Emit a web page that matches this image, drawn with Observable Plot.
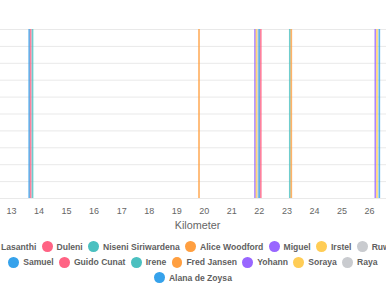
<!DOCTYPE html>
<html>
<head>
<meta charset="utf-8">
<script src="https://cdn.jsdelivr.net/npm/d3@7"></script>
<script src="https://cdn.jsdelivr.net/npm/@observablehq/plot@0.6"></script>
<style>
  html, body { margin: 0; padding: 0; background: #fff; }
  body { width: 386px; height: 290px; overflow: hidden; position: relative; }
  #chart svg { display: block; }
  #legend { width: 386px; padding-top: 3px; font-family: "Liberation Sans", Arial, sans-serif; font-weight: bold; font-size: 8.6px; color: #5f5f5f; }
  .row { display: flex; justify-content: center; align-items: center; height: 15.5px; flex-wrap: nowrap; white-space: nowrap; }
  .item { display: inline-flex; align-items: center; flex-shrink: 0; margin: 0 2.7px; }
  .dot { width: 10.8px; height: 10.8px; border-radius: 50%; margin-right: 4px; flex-shrink: 0; }
</style>
</head>
<body>
<div id="chart"></div>
<div id="legend"></div>
<script>
// Series (legend order) and palette
const names = ["Lasanthi", "Duleni", "Niseni Siriwardena", "Alice Woodford", "Miguel", "Irstel", "Ruwan",
               "Samuel", "Guido Cunat", "Irene", "Fred Jansen", "Yohann", "Soraya", "Raya", "Alana de Zoysa"];
const palette = ["rgb(54,162,235)", "rgb(255,99,132)", "rgb(75,192,192)", "rgb(255,159,64)",
                 "rgb(153,102,255)", "rgb(255,205,86)", "rgb(201,203,207)"];
const legendRows = [
  ["Lasanthi", "Duleni", "Niseni Siriwardena", "Alice Woodford", "Miguel", "Irstel", "Ruwan"],
  ["Samuel", "Guido Cunat", "Irene", "Fred Jansen", "Yohann", "Soraya", "Raya"],
  ["Alana de Zoysa"]
];

// Marker positions (kilometer) per person
const markerNames = ["Samuel", "Duleni", "Niseni Siriwardena", "Alice Woodford",
                     "Miguel", "Irstel", "Raya", "Lasanthi", "Guido Cunat",
                     "Irene", "Fred Jansen", "Yohann", "Soraya", "Alana de Zoysa"];
const markerKm = [13.643, 13.697, 13.763, 19.809,
                  21.842, 21.896, 21.951, 21.995, 22.053,
                  23.106, 23.160, 26.211, 26.273, 26.356];

// Axis ticks
const xTicks = [13, 14, 15, 16, 17, 18, 19, 20, 21, 22, 23, 24, 25, 26];
const yGrid = [0, 0.1, 0.2, 0.3, 0.4, 0.5, 0.6, 0.7, 0.8, 0.9, 1];
const xTitle = "Kilometer";

const colors = names.map((n, i) => palette[i % palette.length]);
const markers = markerNames.map((n, i) => ({name: n, km: markerKm[i]}));

const chart = Plot.plot({
  width: 386,
  height: 236,
  marginLeft: 0,
  marginRight: 0,
  marginTop: 29,
  marginBottom: 38,
  style: {fontFamily: "'Liberation Sans', Arial, sans-serif", fontSize: "9px", color: "#666", background: "#fff"},
  x: {domain: [12.6006, 26.6173], ticks: xTicks, tickSize: 0, tickPadding: 9, label: null},
  y: {domain: [0, 1], axis: null},
  color: {domain: names, range: colors},
  marks: [
    Plot.ruleY(yGrid, {y: d => d, stroke: "#e9e9e9", strokeWidth: 1}),
    Plot.ruleX(markers, {x: "km", stroke: "name", strokeWidth: 1.7, strokeOpacity: 0.8}),
    Plot.text([xTitle], {frameAnchor: "bottom", dy: 30, dx: 4, text: d => d, fill: "#666", fontSize: 10.8})
  ]
});
document.getElementById("chart").appendChild(chart);

const legend = document.getElementById("legend");
for (const row of legendRows) {
  const r = document.createElement("div");
  r.className = "row";
  for (const n of row) {
    const it = document.createElement("span");
    it.className = "item";
    const dot = document.createElement("span");
    dot.className = "dot";
    dot.style.background = colors[names.indexOf(n)];
    const t = document.createElement("span");
    t.textContent = n;
    it.appendChild(dot);
    it.appendChild(t);
    r.appendChild(it);
  }
  legend.appendChild(r);
}
</script>
</body>
</html>
